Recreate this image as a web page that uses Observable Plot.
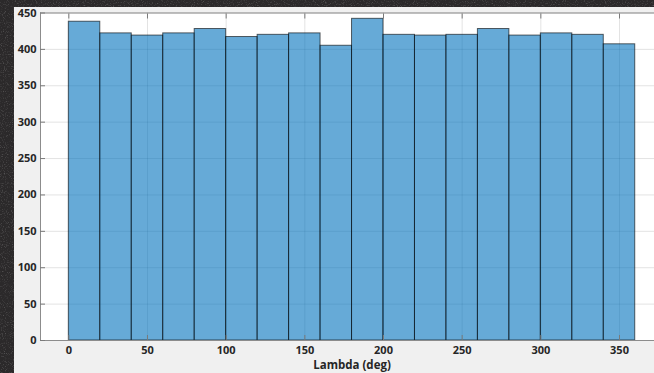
<!DOCTYPE html>
<html>
<head>
<meta charset="utf-8">
<script src="https://cdn.jsdelivr.net/npm/d3@7"></script>
<script src="https://cdn.jsdelivr.net/npm/@observablehq/plot@0.6"></script>
<style>
  html, body { margin: 0; padding: 0; background: #2b292a; }
  #wrap { position: relative; width: 654px; height: 373px; overflow: hidden; }
  #noise { position: absolute; left: 0; top: 0; }
  #panel { position: absolute; left: 14px; top: 7px; right: 0; bottom: 0; background: #f0f0f0; }
  #chart { position: absolute; left: 0; top: 0; }
</style>
</head>
<body>
<div id="wrap">
  <svg id="noise" width="654" height="373">
    <filter id="nf"><feTurbulence type="fractalNoise" baseFrequency="0.9" numOctaves="2" seed="3"/>
      <feColorMatrix type="matrix" values="0 0 0 0 1  0 0 0 0 1  0 0 0 0 1  0 0 0 1.6 -0.85"/></filter>
    <rect width="654" height="373" fill="#2b292a"/>
    <rect width="654" height="373" filter="url(#nf)" opacity="0.35"/>
  </svg>
  <div id="panel"></div>
  <div id="chart"></div>
</div>
<script>
// Histogram bins (deg) and counts
const binStart = [0, 20, 40, 60, 80, 100, 120, 140, 160, 180, 200, 220, 240, 260, 280, 300, 320, 340];
const binEnd   = [20, 40, 60, 80, 100, 120, 140, 160, 180, 200, 220, 240, 260, 280, 300, 320, 340, 360];
const counts   = [438, 422, 419, 422, 428, 417, 420, 422, 405, 442, 420, 419, 420, 428, 419, 422, 420, 407];
const xTicks = [0, 50, 100, 150, 200, 250, 300, 350];
const yTicks = [0, 50, 100, 150, 200, 250, 300, 350, 400, 450];
const xLimits = [-18, 378];   // axis limits of the original axes
const xLabel = "Lambda (deg)";

const bins = binStart.map((s, i) => ({x1: s, x2: binEnd[i], y: counts[i]}));

const W = 654, H = 373, ML = 40, MT = 12.5, MB = 33;
// visible portion of the axes (the right edge is cropped by the image)
const pxPerUnit = 1.5734;
const xMaxVisible = xLimits[0] + (W - ML) / pxPerUnit;

const font = "'Open Sans', sans-serif";
const axisColor = "#262626";

const chart = Plot.plot({
  width: W, height: H,
  marginLeft: ML, marginRight: 0, marginTop: MT, marginBottom: MB,
  style: {background: "transparent", fontFamily: font, overflow: "visible"},
  x: {domain: [xLimits[0], xMaxVisible]},
  y: {domain: [0, 450]},
  marks: [
    Plot.frame({fill: "white", stroke: null}),
    Plot.gridX(xTicks, {stroke: axisColor, strokeOpacity: 0.13}),
    Plot.gridY(yTicks, {stroke: axisColor, strokeOpacity: 0.13}),
    Plot.rectY(bins, {x1: "x1", x2: "x2", y: "y", fill: "#0072bd", fillOpacity: 0.6,
                      stroke: "black", strokeOpacity: 0.6, strokeWidth: 1}),
    // axis lines
    Plot.ruleY([0], {stroke: "#8c8c8c"}),
    Plot.ruleY([450], {stroke: "#8c8c8c"}),
    Plot.ruleX([xLimits[0]], {stroke: "#8c8c8c"}),
    // inward tick marks
    Plot.axisX(xTicks, {anchor: "bottom", tickSize: 5, dy: -5, text: null, label: null, stroke: "#7a7a7a"}),
    Plot.axisX(xTicks, {anchor: "top", tickSize: 5, dy: 5, text: null, label: null, stroke: "#7a7a7a"}),
    Plot.axisY(yTicks, {anchor: "left", tickSize: 5, dx: 5, text: null, label: null, stroke: "#7a7a7a"}),
    // tick labels
    Plot.axisX(xTicks, {anchor: "bottom", tickSize: 0, tickPadding: 6, label: null,
                        fontSize: 11, fontWeight: "bold", fill: axisColor}),
    Plot.axisY(yTicks, {anchor: "left", tickSize: 0, tickPadding: 4, label: null,
                        fontSize: 11, fontWeight: "bold", fill: axisColor}),
    // axis label centred on the axes' limits
    Plot.text([xLabel], {x: () => (xLimits[0] + xLimits[1]) / 2, frameAnchor: "bottom",
                         lineAnchor: "bottom", dy: 28, text: d => d, fontSize: 11.5,
                         fontWeight: "bold", fill: axisColor})
  ]
});
document.getElementById("chart").appendChild(chart);
</script>
</body>
</html>
